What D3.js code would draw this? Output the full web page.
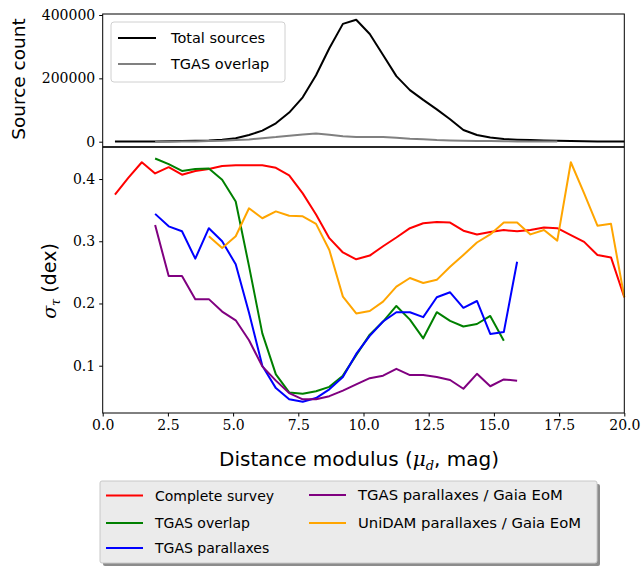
<!DOCTYPE html>
<html>
<head>
<meta charset="utf-8">
<script src="https://cdn.jsdelivr.net/npm/d3@7"></script>
<style>
  body { margin: 0; background: #fff; }
  .tick text { font-family: "DejaVu Serif", serif; font-size: 14px; fill: #000; }
  .tick line { stroke: #000; }
  .domain { display: none; }
  .lbl { font-family: "DejaVu Sans", sans-serif; fill: #000; }
</style>
</head>
<body>
<div id="chart"></div>
<script>
// distance modulus of each bin (mag)
var mu = [0.47, 0.98, 1.50, 2.01, 2.53, 3.04, 3.55, 4.07, 4.58, 5.10,
          5.61, 6.12, 6.64, 7.15, 7.67, 8.18, 8.69, 9.21, 9.72, 10.24,
          10.75, 11.26, 11.78, 12.29, 12.81, 13.32, 13.83, 14.35, 14.86, 15.38,
          15.89, 16.40, 16.92, 17.43, 17.95, 18.46, 18.97, 19.49, 20.00];

// top panel: source counts
var totalSources = [300, 400, 600, 900, 1300, 2000, 3000, 4000, 6500, 11000,
                    21000, 35000, 58000, 92000, 140000, 210000, 295000, 372000, 385000, 340000,
                    274000, 207000, 163000, 132000, 102000, 71000, 37000, 21000, 13000, 8500,
                    6400, 5000, 4000, 3000, 2000, 1500, 1000, 800, 500];
var tgasOverlapCount = [null, null, null, 0, 200, 500, 1000, 2000, 3000, 5000,
                        7000, 11000, 14500, 19000, 23000, 25500, 22000, 17000, 15000, 15000,
                        14500, 12500, 9500, 7500, 5000, 4000, 3000, 2500, 2000, 1500,
                        1000, 700, 500, 300];

// bottom panel: sigma_tau (dex)
var completeSurvey = [0.375, 0.402, 0.427, 0.409, 0.419, 0.407, 0.413, 0.416, 0.421, 0.422,
                      0.422, 0.422, 0.418, 0.406, 0.377, 0.343, 0.305, 0.282, 0.271, 0.277,
                      0.292, 0.306, 0.321, 0.329, 0.331, 0.330, 0.317, 0.311, 0.315, 0.318,
                      0.316, 0.318, 0.322, 0.321, 0.310, 0.299, 0.278, 0.274, 0.210];
var tgasOverlap = [null, null, null, 0.433, 0.424, 0.413, 0.416, 0.417, 0.399, 0.364,
                   0.260, 0.152, 0.086, 0.057, 0.055, 0.059, 0.066, 0.084, 0.117, 0.150,
                   0.171, 0.196, 0.174, 0.144, 0.186, 0.172, 0.163, 0.167, 0.180, 0.140];
var tgasParallaxes = [null, null, null, 0.344, 0.324, 0.316, 0.272, 0.321, 0.300, 0.263,
                      0.185, 0.100, 0.064, 0.046, 0.042, 0.048, 0.062, 0.082, 0.119, 0.148,
                      0.171, 0.186, 0.186, 0.178, 0.210, 0.218, 0.193, 0.204, 0.151, 0.154,
                      0.267];
var tgasEoM = [null, null, null, 0.326, 0.244, 0.244, 0.207, 0.207, 0.187, 0.173,
               0.141, 0.099, 0.076, 0.056, 0.046, 0.046, 0.051, 0.060, 0.070, 0.080,
               0.084, 0.095, 0.085, 0.085, 0.082, 0.077, 0.063, 0.087, 0.067, 0.078,
               0.076];
var unidamEoM = [null, null, null, null, null, null, null, 0.308, 0.289, 0.308,
                 0.353, 0.337, 0.348, 0.341, 0.340, 0.328, 0.286, 0.211, 0.184, 0.188,
                 0.203, 0.227, 0.241, 0.233, 0.238, 0.259, 0.278, 0.298, 0.311, 0.330,
                 0.330, 0.311, 0.318, 0.301, 0.427, 0.377, 0.325, 0.328, 0.210];

var xTicks = [0, 2.5, 5, 7.5, 10, 12.5, 15, 17.5, 20];
var countTicks = [0, 200000, 400000];
var sigmaTicks = [0.1, 0.2, 0.3, 0.4];

var topSeries = [
  {name: "Total sources", values: totalSources, color: "#000000"},
  {name: "TGAS overlap", values: tgasOverlapCount, color: "#808080"}
];
var bottomSeries = [
  {name: "Complete survey", values: completeSurvey, color: "#ff0000"},
  {name: "TGAS overlap", values: tgasOverlap, color: "#008000"},
  {name: "TGAS parallaxes", values: tgasParallaxes, color: "#0000ff"},
  {name: "TGAS parallaxes / Gaia EoM", values: tgasEoM, color: "#800080"},
  {name: "UniDAM parallaxes / Gaia EoM", values: unidamEoM, color: "#ffa500"}
];

var W = 643, H = 567;
var left = 102.7, right = 624.3;
var top1 = 14, bot1 = 146.7, top2 = 147.3, bot2 = 413;

var svg = d3.select("#chart").append("svg")
    .attr("width", W).attr("height", H);

var x = d3.scaleLinear().domain([0, 20]).range([left, right]);
var yTop = d3.scaleLinear().domain([-15800, 403200]).range([bot1, top1]);
var yBot = d3.scaleLinear().domain([0.024, 0.451]).range([bot2, top2]);

function toPoints(vals) {
  return vals.map(function (v, i) { return [mu[i], v]; });
}

// ---- top panel
var lineTop = d3.line()
    .defined(function (d) { return d[1] != null; })
    .x(function (d) { return x(d[0]); })
    .y(function (d) { return yTop(d[1]); });

svg.append("g").selectAll("path")
    .data(topSeries)
  .enter().append("path")
    .attr("d", function (d) { return lineTop(toPoints(d.values)); })
    .attr("fill", "none")
    .attr("stroke", function (d) { return d.color; })
    .attr("stroke-width", 2)
    .attr("stroke-linejoin", "round");

svg.append("g")
    .attr("transform", "translate(" + left + ",0)")
    .call(d3.axisLeft(yTop).tickValues(countTicks).tickSize(3.5).tickPadding(4)
          .tickFormat(d3.format("d")));

svg.append("rect")
    .attr("x", left).attr("y", top1)
    .attr("width", right - left).attr("height", bot1 - top1)
    .attr("fill", "none").attr("stroke", "#000").attr("stroke-width", 1);

// ---- bottom panel
var lineBot = d3.line()
    .defined(function (d) { return d[1] != null; })
    .x(function (d) { return x(d[0]); })
    .y(function (d) { return yBot(d[1]); });

svg.append("g").selectAll("path")
    .data(bottomSeries)
  .enter().append("path")
    .attr("d", function (d) { return lineBot(toPoints(d.values)); })
    .attr("fill", "none")
    .attr("stroke", function (d) { return d.color; })
    .attr("stroke-width", 2)
    .attr("stroke-linejoin", "round");

svg.append("g")
    .attr("transform", "translate(" + left + ",0)")
    .call(d3.axisLeft(yBot).tickValues(sigmaTicks).tickSize(3.5).tickPadding(4)
          .tickFormat(d3.format(".1f")));

svg.append("g")
    .attr("transform", "translate(0," + bot2 + ")")
    .call(d3.axisBottom(x).tickValues(xTicks).tickSize(3.5).tickPadding(4)
          .tickFormat(d3.format(".1f")));

svg.append("rect")
    .attr("x", left).attr("y", top2)
    .attr("width", right - left).attr("height", bot2 - top2)
    .attr("fill", "none").attr("stroke", "#000").attr("stroke-width", 1);

// ---- axis labels
svg.append("text")
    .attr("class", "lbl")
    .attr("transform", "translate(25,79) rotate(-90)")
    .attr("text-anchor", "middle")
    .style("font-size", "18.5px")
    .text("Source count");

var sLab = svg.append("text")
    .attr("class", "lbl")
    .attr("transform", "translate(56,281) rotate(-90)")
    .attr("text-anchor", "middle")
    .style("font-size", "19px");
sLab.append("tspan").style("font-family", "DejaVu Serif").style("font-style", "italic").text("σ");
sLab.append("tspan").style("font-family", "DejaVu Serif").style("font-style", "italic")
    .style("font-size", "13px").attr("dy", 4).text("τ");
sLab.append("tspan").attr("dy", -4).text(" (dex)");

var xLab = svg.append("text")
    .attr("class", "lbl")
    .attr("x", 359).attr("y", 466)
    .attr("text-anchor", "middle")
    .style("font-size", "20px");
xLab.append("tspan").text("Distance modulus (");
xLab.append("tspan").style("font-family", "DejaVu Serif").style("font-style", "italic").text("μ");
xLab.append("tspan").style("font-family", "DejaVu Serif").style("font-style", "italic")
    .style("font-size", "13px").attr("dy", 4).text("d");
xLab.append("tspan").attr("dy", -4).text(", mag)");

// ---- top legend
var legTop = svg.append("g").attr("transform", "translate(111,22)");
legTop.append("rect")
    .attr("width", 174).attr("height", 60).attr("rx", 3)
    .attr("fill", "#fff").attr("fill-opacity", 0.8)
    .attr("stroke", "#d0d0d0");
topSeries.forEach(function (s, i) {
  var yy = 16 + i * 26;
  legTop.append("line")
      .attr("x1", 7).attr("x2", 45).attr("y1", yy).attr("y2", yy)
      .attr("stroke", s.color).attr("stroke-width", 2);
  legTop.append("text")
      .attr("class", "lbl")
      .attr("x", 60).attr("y", yy + 5)
      .style("font-size", "14.5px")
      .text(s.name);
});

// ---- bottom legend
var legBot = svg.append("g").attr("transform", "translate(100,481)");
legBot.append("rect")
    .attr("x", 3).attr("y", 3)
    .attr("width", 497).attr("height", 82).attr("rx", 2)
    .attr("fill", "#8c8c8c");
legBot.append("rect")
    .attr("width", 497).attr("height", 82).attr("rx", 2)
    .attr("fill", "#ebebeb")
    .attr("stroke", "#c8c8c8");
var legPos = [[6, 14.5], [6, 42], [6, 67], [209, 14], [209, 42]];
bottomSeries.forEach(function (s, i) {
  var p = legPos[i];
  legBot.append("line")
      .attr("x1", p[0]).attr("x2", p[0] + 37).attr("y1", p[1]).attr("y2", p[1])
      .attr("stroke", s.color).attr("stroke-width", 2);
  legBot.append("text")
      .attr("class", "lbl")
      .attr("x", p[0] + 49).attr("y", p[1] + 5)
      .style("font-size", i < 3 ? "14px" : "14.8px")
      .text(s.name);
});
</script>
</body>
</html>
